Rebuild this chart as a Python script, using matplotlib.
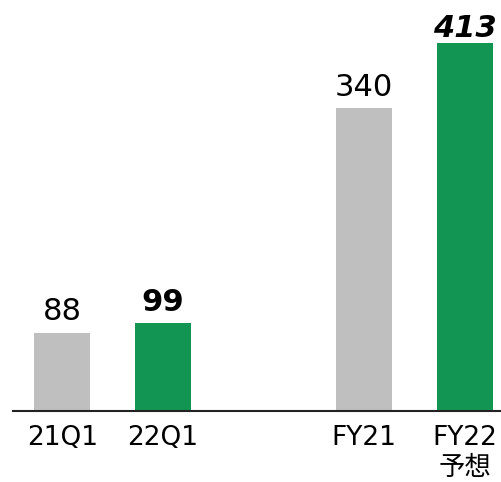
import matplotlib
matplotlib.use("Agg")
import matplotlib.pyplot as plt

plt.rcParams['font.family'] = ['DejaVu Sans', 'Noto Sans CJK JP']

categories = ['21Q1', '22Q1', 'FY21', 'FY22\n予想']
positions = [0, 1, 3, 4]
values = [88, 99, 340, 413]
labels = ['88', '99', '340', '413']

gray = '#BFBFBF'
green = '#129552'
colors = [gray, green, gray, green]

fig = plt.figure(figsize=(5.01, 4.82), dpi=100)
ax = fig.add_axes([13 / 501, 71 / 482, 1 - 13 / 501, 1 - 71 / 482])

ax.bar(positions, values, width=0.557, color=colors, zorder=2)

ax.set_xlim(-0.49, 4.36)
ax.set_ylim(0, 461.3)

# value labels: plain for last year, bold for this year, bold italic for forecast
styles = [dict(), dict(weight='bold'), dict(), dict(weight='bold', style='italic')]
offsets = [4.5, 4.5, 4.5, 0]
for x, v, t, st, off in zip(positions, values, labels, styles, offsets):
    ax.annotate(t, (x, v), xytext=(0, off), textcoords='offset points',
                ha='center', va='bottom', fontsize=22, color='black', **st)

ax.set_xticks(positions)
ax.set_xticklabels(categories, fontsize=19, linespacing=1.22)
ax.tick_params(axis='x', length=0, pad=10)
ax.set_yticks([])

for s in ['top', 'right', 'left']:
    ax.spines[s].set_visible(False)
ax.spines['bottom'].set_linewidth(1.5)
ax.spines['bottom'].set_color('#222222')

fig.savefig('out.png', dpi=100)
